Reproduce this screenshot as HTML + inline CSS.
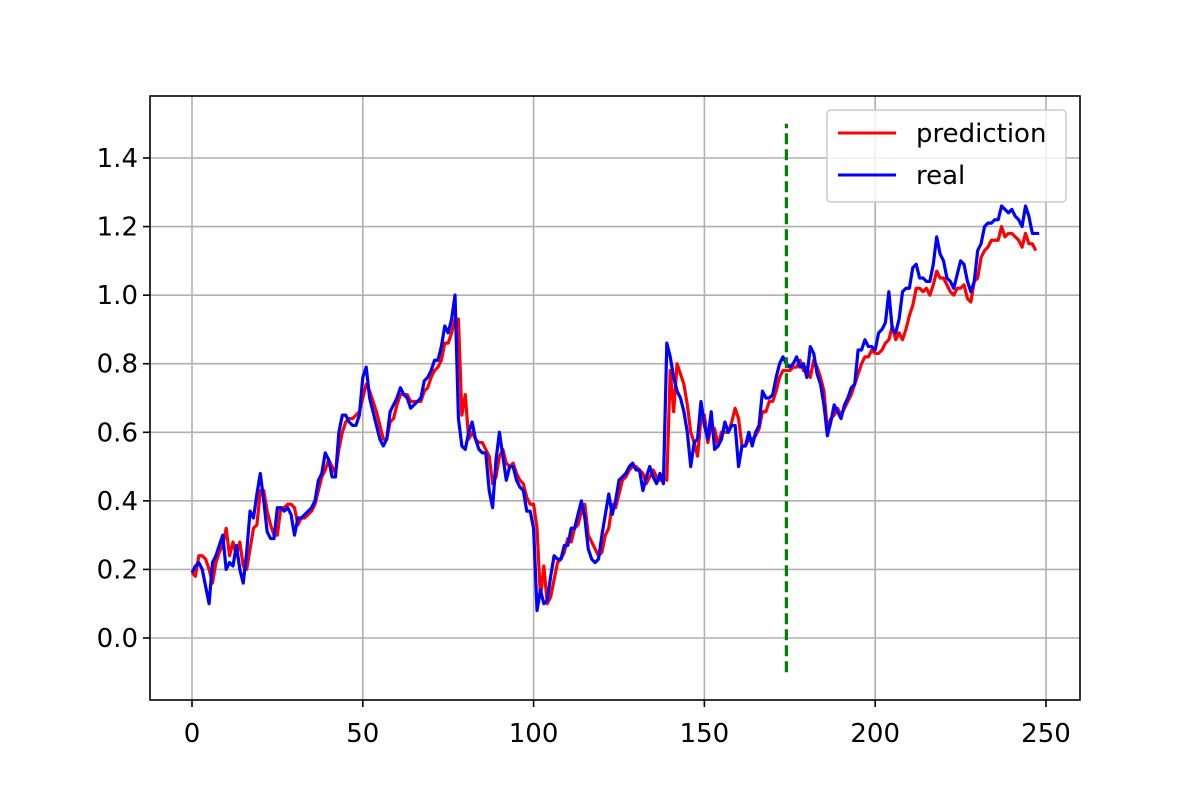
<!DOCTYPE html>
<html><head><meta charset="utf-8"><style>
body{margin:0;background:#fff}
svg{display:block}
text{font-family:"DejaVu Sans","Liberation Sans",sans-serif;font-size:26px;fill:#000}
</style></head><body>
<svg id="chart" width="1200" height="800" xmlns="http://www.w3.org/2000/svg">
<rect width="1200" height="800" fill="#fff"/>
<g id="grid"></g>
<g id="series"></g>
<rect x="150" y="96" width="930" height="604" fill="none" stroke="#000" stroke-width="1.6"/>
<g id="ticks"></g>
<g>
<rect x="827" y="110" width="239" height="92" rx="4" fill="#fff" fill-opacity="0.8" stroke="#ccc" stroke-width="1.5"/>
<line x1="838" y1="133" x2="896" y2="133" stroke="red" stroke-width="3.1"/>
<text x="916" y="142">prediction</text>
<line x1="838" y1="175" x2="896" y2="175" stroke="blue" stroke-width="3.1"/>
<text x="916" y="184">real</text>
</g>
</svg>
<script>
const realValues=[0.19,0.21,0.22,0.2,0.15,0.1,0.22,0.24,0.27,0.3,0.2,0.22,0.21,0.27,0.2,0.16,0.25,0.37,0.35,0.42,0.48,0.4,0.31,0.29,0.29,0.38,0.38,0.37,0.38,0.36,0.3,0.35,0.35,0.36,0.37,0.38,0.4,0.46,0.48,0.54,0.52,0.47,0.47,0.6,0.65,0.65,0.63,0.62,0.62,0.65,0.76,0.79,0.7,0.66,0.62,0.58,0.56,0.58,0.66,0.68,0.7,0.73,0.71,0.7,0.67,0.68,0.69,0.7,0.75,0.76,0.78,0.81,0.81,0.85,0.91,0.89,0.93,1.0,0.64,0.56,0.55,0.6,0.63,0.58,0.55,0.54,0.54,0.43,0.38,0.52,0.6,0.53,0.46,0.5,0.5,0.46,0.44,0.43,0.37,0.37,0.32,0.08,0.14,0.1,0.11,0.18,0.24,0.23,0.23,0.27,0.27,0.32,0.32,0.36,0.4,0.35,0.26,0.23,0.22,0.23,0.3,0.36,0.42,0.36,0.4,0.46,0.47,0.48,0.5,0.51,0.49,0.49,0.43,0.47,0.5,0.47,0.45,0.48,0.45,0.86,0.82,0.76,0.72,0.7,0.66,0.6,0.5,0.57,0.58,0.69,0.62,0.58,0.66,0.55,0.56,0.58,0.63,0.6,0.62,0.62,0.5,0.56,0.56,0.6,0.56,0.6,0.62,0.72,0.7,0.7,0.71,0.76,0.8,0.82,0.8,0.79,0.8,0.82,0.79,0.8,0.76,0.85,0.83,0.77,0.74,0.68,0.59,0.63,0.68,0.66,0.64,0.68,0.7,0.73,0.74,0.84,0.84,0.87,0.85,0.85,0.84,0.89,0.9,0.92,1.01,0.9,0.89,0.93,1.01,1.02,1.02,1.08,1.09,1.05,1.05,1.04,1.04,1.09,1.17,1.12,1.1,1.05,1.04,1.02,1.06,1.1,1.09,1.04,1.01,1.04,1.13,1.15,1.2,1.21,1.21,1.22,1.22,1.26,1.25,1.24,1.25,1.23,1.22,1.2,1.26,1.23,1.18,1.18,1.18];
const predValues=[0.19,0.18,0.24,0.24,0.23,0.2,0.16,0.22,0.25,0.27,0.32,0.24,0.28,0.24,0.28,0.21,0.2,0.26,0.32,0.33,0.43,0.43,0.37,0.33,0.3,0.3,0.38,0.38,0.39,0.39,0.38,0.33,0.35,0.35,0.36,0.37,0.39,0.43,0.47,0.49,0.52,0.5,0.48,0.55,0.6,0.63,0.64,0.64,0.65,0.66,0.7,0.74,0.72,0.69,0.66,0.62,0.58,0.58,0.63,0.64,0.68,0.71,0.71,0.71,0.69,0.69,0.69,0.69,0.72,0.73,0.76,0.78,0.79,0.81,0.86,0.86,0.89,0.93,0.93,0.65,0.71,0.58,0.6,0.58,0.57,0.57,0.55,0.53,0.45,0.47,0.53,0.55,0.51,0.5,0.51,0.48,0.46,0.45,0.41,0.39,0.39,0.32,0.12,0.21,0.1,0.12,0.17,0.22,0.23,0.25,0.29,0.28,0.32,0.33,0.37,0.39,0.3,0.28,0.26,0.24,0.25,0.3,0.32,0.39,0.38,0.42,0.46,0.47,0.49,0.5,0.5,0.49,0.48,0.45,0.47,0.49,0.47,0.46,0.47,0.46,0.78,0.66,0.8,0.77,0.74,0.68,0.6,0.57,0.53,0.64,0.65,0.57,0.62,0.61,0.56,0.6,0.6,0.6,0.63,0.67,0.64,0.56,0.56,0.58,0.58,0.59,0.61,0.66,0.66,0.69,0.69,0.72,0.76,0.78,0.78,0.78,0.79,0.79,0.81,0.78,0.79,0.76,0.81,0.79,0.76,0.72,0.61,0.64,0.65,0.67,0.65,0.67,0.69,0.71,0.74,0.77,0.8,0.82,0.82,0.84,0.83,0.83,0.84,0.86,0.87,0.91,0.87,0.89,0.87,0.9,0.94,0.97,1.02,1.02,1.01,1.02,1.0,1.03,1.07,1.05,1.05,1.03,1.01,1.0,1.02,1.02,1.03,0.99,0.98,1.04,1.05,1.11,1.13,1.14,1.16,1.16,1.16,1.2,1.17,1.18,1.18,1.17,1.16,1.14,1.18,1.15,1.15,1.13];
const xTicks=[0,50,100,150,200,250];
const yTicks=[0.0,0.2,0.4,0.6,0.8,1.0,1.2,1.4];
const splitIndex=[174];
const splitRange=[-0.1,1.5];

const NS="http://www.w3.org/2000/svg";
const X=v=>192+v*(1046-192)/250;
const Y=v=>638-v*(638-158)/1.4;
function mk(tag,attrs,parent){const e=document.createElementNS(NS,tag);for(const k in attrs)e.setAttribute(k,attrs[k]);parent.appendChild(e);return e;}
const grid=document.getElementById('grid'),ticks=document.getElementById('ticks'),series=document.getElementById('series');
xTicks.forEach(t=>{
  const g=mk('line',{x1:X(t),x2:X(t),y1:96,y2:700,stroke:'#b0b0b0','stroke-width':1.6},grid);
  
  
  const tk=mk('line',{x1:X(t),x2:X(t),y1:700,y2:707,stroke:'#000','stroke-width':1.6},ticks);
  
  
  const tx=mk('text',{x:X(t),y:742,'text-anchor':'middle'},ticks);
  
  
  tx.textContent=String(t);
});
yTicks.forEach(t=>{
  const g=mk('line',{x1:150,x2:1080,y1:Y(t),y2:Y(t),stroke:'#b0b0b0','stroke-width':1.6},grid);
  
  
  const tk=mk('line',{x1:143,x2:150,y1:Y(t),y2:Y(t),stroke:'#000','stroke-width':1.6},ticks);
  
  
  const tx=mk('text',{x:138,y:Y(t)+9,'text-anchor':'end'},ticks);
  
  
  tx.textContent=t.toFixed(1);
});
function line(vals,color,name){
  const p=mk('polyline',{points:vals.map((v,i)=>X(i)+','+Y(v)).join(' '),fill:'none',stroke:color,'stroke-width':3.2,'stroke-linejoin':'round'},series);
  
  
}
line(predValues,'red','prediction-line');
line(realValues,'blue','real-line');
const s=mk('line',{x1:X(splitIndex[0]),x2:X(splitIndex[0]),y1:Y(splitRange[0]),y2:Y(splitRange[1]),stroke:'green','stroke-width':3.2,'stroke-dasharray':'11,5'},series);


</script>
</body></html>
